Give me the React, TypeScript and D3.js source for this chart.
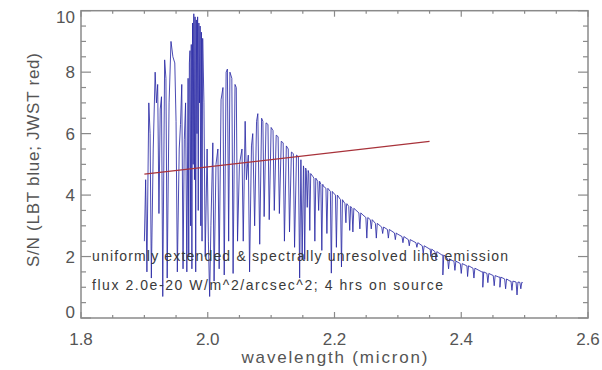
import React, { useEffect, useRef } from 'react'
import * as d3 from 'd3'

// axis ranges and labels
const xDomain = [1.8, 2.6]
const yDomain = [0, 10]
const xTickLabels = ['1.8', '2.0', '2.2', '2.4', '2.6']
const yTickLabels = ['0', '2', '4', '6', '8', '10']

// JWST (red) line
const jwstLine: [number, number][] = [
  [1.9, 4.68],
  [2.35, 5.75],
]

// LBT (blue) spectrum, region crowded with telluric lines
const lbtDense: [number, number][] = [
  [1.900, 2.5], [1.902, 4.5], [1.904, 1.5], [1.907, 7.0], [1.909, 6.0],
  [1.911, 1.3], [1.914, 5.5], [1.917, 8.0], [1.919, 7.0], [1.921, 7.6],
  [1.923, 3.4], [1.925, 6.8], [1.927, 7.2], [1.929, 0.7], [1.932, 8.4],
  [1.934, 7.8], [1.936, 1.3], [1.939, 7.0], [1.942, 9.0], [1.945, 8.5],
  [1.948, 8.3], [1.950, 6.4], [1.952, 1.5], [1.955, 5.5], [1.957, 6.3],
  [1.959, 7.6], [1.961, 1.6], [1.963, 5.8], [1.965, 7.0], [1.967, 1.5],
  [1.969, 7.8], [1.970, 2.0], [1.971, 8.3], [1.972, 8.7], [1.973, 3.0],
  [1.974, 8.9], [1.975, 1.6], [1.976, 9.6], [1.977, 5.0], [1.978, 9.9],
  [1.979, 4.5], [1.980, 9.8], [1.981, 1.5], [1.982, 9.7], [1.983, 6.0],
  [1.984, 9.8], [1.985, 3.5], [1.986, 9.6], [1.987, 7.0], [1.988, 9.5],
  [1.989, 3.0], [1.990, 9.3], [1.991, 2.5], [1.992, 9.1], [1.994, 7.0],
  [1.996, 2.0], [1.999, 5.5], [2.001, 2.5], [2.003, 0.7], [2.005, 3.0],
  [2.008, 5.7], [2.010, 1.2], [2.013, 5.0], [2.016, 5.5], [2.018, 1.6],
  [2.021, 7.1], [2.024, 7.5], [2.026, 1.4], [2.029, 8.0], [2.031, 8.1],
  [2.033, 2.5], [2.035, 8.0], [2.038, 7.8], [2.040, 1.45], [2.043, 7.6],
  [2.045, 7.5], [2.047, 2.5], [2.050, 5.0], [2.054, 5.5], [2.056, 2.5],
  [2.059, 6.4], [2.061, 4.5], [2.064, 5.3], [2.066, 1.5], [2.069, 5.6],
  [2.071, 6.0], [2.074, 3.0], [2.077, 6.4], [2.079, 6.65], [2.082, 2.4],
  [2.085, 6.5], [2.087, 6.4], [2.089, 3.3], [2.092, 6.35], [2.095, 6.3],
  [2.097, 3.2], [2.100, 6.2], [2.103, 6.1], [2.105, 3.5], [2.108, 5.95],
  [2.111, 5.9], [2.113, 3.4], [2.116, 5.75], [2.119, 5.7], [2.121, 2.5],
  [2.124, 5.6], [2.127, 5.5], [2.129, 2.8], [2.132, 5.4], [2.135, 5.35],
  [2.137, 2.3], [2.140, 5.3], [2.143, 5.25], [2.145, 1.3], [2.147, 5.15],
  [2.149, 1.9], [2.151, 4.95],
]

// LBT continuum past the crowded region
const lbtSmooth: [number, number][] = [
  [2.166, 4.6], [2.182, 4.3], [2.197, 4.1], [2.219, 3.7], [2.245, 3.35],
  [2.272, 3.0], [2.298, 2.75], [2.324, 2.5], [2.351, 2.25], [2.371, 2.05],
  [2.382, 1.9], [2.409, 1.7], [2.434, 1.5], [2.461, 1.33], [2.477, 1.2],
  [2.497, 1.15],
]

// single absorption lines on the continuum: wavelength, top, bottom
const lbtDips: [number, number, number][] = [
  [2.153, 4.88, 1.9], [2.157, 4.8, 3.6], [2.161, 4.7, 2.85], [2.169, 4.55, 2.5],
  [2.175, 4.45, 3.5], [2.180, 4.35, 2.2], [2.188, 4.22, 2.75], [2.195, 4.12, 1.46],
  [2.203, 4.0, 2.3], [2.211, 3.85, 1.66], [2.218, 3.72, 3.1], [2.224, 3.63, 2.85],
  [2.229, 3.57, 2.8], [2.240, 3.42, 2.9], [2.251, 3.27, 2.6], [2.258, 3.2, 2.9],
  [2.266, 3.08, 2.6], [2.276, 2.96, 2.75], [2.285, 2.88, 2.6], [2.296, 2.77, 2.55],
  [2.308, 2.65, 2.45], [2.318, 2.55, 2.35], [2.330, 2.45, 2.3], [2.340, 2.35, 2.1],
  [2.352, 2.24, 2.0], [2.360, 2.16, 1.9], [2.371, 2.05, 1.4], [2.380, 1.93, 1.6],
  [2.390, 1.85, 1.55], [2.400, 1.77, 1.45], [2.410, 1.7, 1.35], [2.420, 1.62, 1.3],
  [2.434, 1.5, 1.0], [2.442, 1.45, 1.15], [2.452, 1.38, 1.05], [2.461, 1.33, 1.0],
  [2.470, 1.27, 0.95], [2.480, 1.2, 0.9], [2.488, 1.17, 0.75], [2.494, 1.16, 0.95],
]

const noteLines = [
  'uniformly extended & spectrally unresolved line emission',
  'flux 2.0e-20 W/m^2/arcsec^2; 4 hrs on source',
]

const FONT = '"Liberation Sans", Arial, Helvetica, sans-serif'

function SpectrumChart() {
  const container = useRef<SVGSVGElement | null>(null)

  useEffect(() => {
    document.body.style.margin = '0'
    const svg = d3.select(container.current)
    svg.selectAll('*').remove()

    const left = 81, right = 588, top = 10.7, bottom = 318
    const x = d3.scaleLinear().domain(xDomain).range([left, right])
    const y = d3.scaleLinear().domain(yDomain).range([bottom, top])

    const axisColor = '#8a8a8a'
    const labelColor = '#555'

    // blue spectrum: dense part, then continuum with dips
    let pts: [number, number][] = lbtDense.slice()
    let rest: [number, number][] = lbtSmooth.map(d => d)
    lbtDips.forEach(([w, t, b]) => {
      rest.push([w - 0.0015, t], [w, b], [w + 0.0015, t])
    })
    rest.sort((a, b) => a[0] - b[0])
    pts = pts.concat(rest)

    const line = d3.line<[number, number]>()
      .x(d => x(d[0]))
      .y(d => y(d[1]))

    svg.append('path')
      .datum(pts)
      .attr('d', line)
      .attr('fill', 'none')
      .attr('stroke', '#2c2ca6')
      .attr('stroke-width', 1)
      .attr('stroke-opacity', 0.85)
      .attr('stroke-linejoin', 'round')

    svg.append('path')
      .datum(jwstLine)
      .attr('d', line)
      .attr('fill', 'none')
      .attr('stroke', '#a8323a')
      .attr('stroke-width', 1.3)

    // frame
    svg.append('rect')
      .attr('x', left).attr('y', top)
      .attr('width', right - left).attr('height', bottom - top)
      .attr('fill', 'none')
      .attr('stroke', axisColor)
      .attr('stroke-width', 1.5)

    // ticks, inside on all four sides
    const ticks = svg.append('g').attr('stroke', axisColor).attr('stroke-width', 1.2)
    const xMajor = x.ticks(4), xMinor = x.ticks(16)
    const yMajor = y.ticks(5), yMinor = y.ticks(20)
    xMinor.forEach(v => {
      const len = xMajor.some(m => Math.abs(m - v) < 1e-9) ? 6 : 3
      ticks.append('line').attr('x1', x(v)).attr('x2', x(v)).attr('y1', bottom).attr('y2', bottom - len)
      ticks.append('line').attr('x1', x(v)).attr('x2', x(v)).attr('y1', top).attr('y2', top + len)
    })
    yMinor.forEach(v => {
      const len = yMajor.some(m => Math.abs(m - v) < 1e-9) ? 10 : 5
      ticks.append('line').attr('x1', left).attr('x2', left + len).attr('y1', y(v)).attr('y2', y(v))
      ticks.append('line').attr('x1', right).attr('x2', right - len).attr('y1', y(v)).attr('y2', y(v))
    })

    // tick labels
    svg.selectAll('.xlab').data(xMajor).join('text')
      .attr('class', 'xlab')
      .attr('x', d => x(d))
      .attr('y', 345)
      .attr('text-anchor', 'middle')
      .attr('font-size', 17)
      .attr('font-family', FONT)
      .attr('fill', labelColor)
      .text((d, i) => xTickLabels[i])

    svg.selectAll('.ylab').data(yMajor).join('text')
      .attr('class', 'ylab')
      .attr('x', 75)
      .attr('y', d => Math.min(Math.max(y(d), top + 6), bottom - 6) + 6)
      .attr('text-anchor', 'end')
      .attr('font-size', 17)
      .attr('font-family', FONT)
      .attr('fill', labelColor)
      .text((d, i) => yTickLabels[i])

    // axis titles
    svg.append('text')
      .attr('x', (left + right) / 2)
      .attr('y', 363)
      .attr('text-anchor', 'middle')
      .attr('font-size', 17)
      .attr('font-family', FONT)
      .attr('fill', labelColor)
      .attr('textLength', 186)
      .attr('lengthAdjust', 'spacing')
      .text('wavelength (micron)')

    svg.append('text')
      .attr('transform', 'translate(39, 160) rotate(-90)')
      .attr('text-anchor', 'middle')
      .attr('font-size', 17)
      .attr('font-family', FONT)
      .attr('fill', labelColor)
      .attr('textLength', 214)
      .attr('lengthAdjust', 'spacing')
      .text('S/N (LBT blue; JWST red)')

    // note
    const noteWidths = [416, 351]
    svg.selectAll('.note').data(noteLines).join('text')
      .attr('class', 'note')
      .attr('x', 92)
      .attr('y', (d, i) => 261 + i * 29)
      .attr('font-size', 14)
      .attr('font-family', FONT)
      .attr('fill', '#3a3a3a')
      .attr('textLength', (d, i) => noteWidths[i])
      .attr('lengthAdjust', 'spacing')
      .text(d => d)
  }, [])

  return <svg ref={container} width={602} height={370} style={{ display: 'block', background: '#fff' }} />
}

export default function App() {
  return <SpectrumChart />
}
